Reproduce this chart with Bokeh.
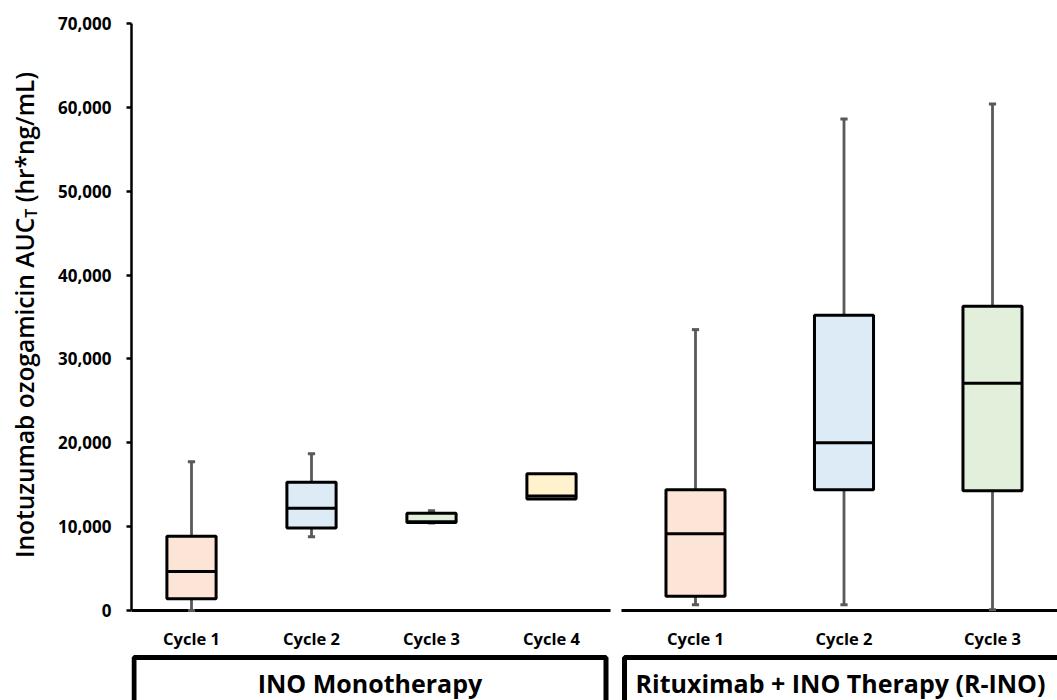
from bokeh.plotting import figure
from bokeh.models import Range1d, FixedTicker, NumeralTickFormatter, ColumnDataSource, Div
from bokeh.layouts import column, row
from bokeh.embed import file_html
from bokeh.resources import INLINE
from bokeh.core.properties import value

# ---------------- data ----------------
mono_cycles = ["Cycle 1", "Cycle 2", "Cycle 3", "Cycle 4"]
mono_min = [0, 8800, 10450, 13300]
mono_q1 = [1400, 9850, 10500, 13300]
mono_med = [4650, 12200, 10600, 13650]
mono_q3 = [8850, 15300, 11600, 16300]
mono_max = [17750, 18700, 11900, 16300]

rino_cycles = ["Cycle 1", "Cycle 2", "Cycle 3"]
rino_min = [700, 700, 100]
rino_q1 = [1700, 14400, 14300]
rino_med = [9150, 20000, 27100]
rino_q3 = [14400, 35200, 36300]
rino_max = [33500, 58600, 60400]

cycle_colors = ["#FCE4D6", "#DDEBF7", "#E2EFDA", "#FFF2CC"]
group_labels = ["INO Monotherapy", "Rituximab + INO Therapy (R-INO)"]
y_ticks = [0, 10000, 20000, 30000, 40000, 50000, 60000, 70000]
y_title_main = "Inotuzumab ozogamicin AUC"
y_title_sub = "T"
y_title_tail = " (hr*ng/mL)"

# ---------------- layout ----------------
FONT = "Open Sans"
W_PAGE = 1057
H_MAIN = 653
H_GROUP = 47
TITLE_W = 50
W = W_PAGE - TITLE_W
PX = 120.0  # pixels per x unit
FRAME_L = 131          # page x of the y axis
FRAME_B = 613          # page y of the frame bottom
TITLE_CENTER_Y = 315


def xdat(page_x):
    return 1 + (page_x - 191) / PX


mono_x = [1 + i for i in range(len(mono_cycles))]
rino_x = [5.2 + 1.2375 * i for i in range(len(rino_cycles))]
mono_w = 0.41
rino_w = 0.41 * 1.2

p = figure(width=W, height=H_MAIN, x_range=Range1d(xdat(FRAME_L), xdat(W_PAGE)),
           y_range=Range1d(-350, 70000),
           title=None, toolbar_location=None, output_backend="svg",
           min_border_left=FRAME_L - TITLE_W, min_border_right=0, min_border_top=23,
           min_border_bottom=H_MAIN - FRAME_B)
p.xgrid.visible = False
p.ygrid.visible = False
p.outline_line_color = None

# y axis
ya = p.yaxis[0]
ya.ticker = FixedTicker(ticks=y_ticks)
ya.formatter = NumeralTickFormatter(format="0,0")
ya.bounds = (0, 70000)
ya.axis_line_width = 2.5
ya.axis_line_color = "black"
ya.major_tick_line_width = 2.5
ya.major_tick_line_color = "black"
ya.major_tick_in = 0
ya.major_tick_out = 5
ya.minor_tick_line_color = None
ya.major_label_standoff = 15
ya.major_label_text_font = FONT
ya.major_label_text_font_style = "bold"
ya.major_label_text_font_size = "17px"
ya.major_label_text_color = "black"

# x axis (labels only)
xa = p.xaxis[0]
all_x = mono_x + rino_x
xa.ticker = FixedTicker(ticks=all_x)
xa.major_label_overrides = {x: lab for x, lab in zip(all_x, mono_cycles + rino_cycles)}
xa.axis_line_color = None
xa.major_tick_line_color = None
xa.minor_tick_line_color = None
xa.major_tick_in = 0
xa.major_tick_out = 0
xa.major_label_standoff = 13
xa.major_label_text_font = FONT
xa.major_label_text_font_style = "bold"
xa.major_label_text_font_size = "16.5px"
xa.major_label_text_color = "black"

# broken x axis line
p.segment(x0=[xdat(FRAME_L), xdat(621)], y0=[0, 0], x1=[xdat(610), xdat(W_PAGE + 10)], y1=[0, 0],
          line_color="black", line_width=3)


def draw_boxes(xs, w, mins, q1s, meds, q3s, maxs, colors):
    cap = 0.03
    p.segment(x0=xs, y0=mins, x1=xs, y1=maxs, line_color="#595959", line_width=2.8)
    cx0, cx1, cy = [], [], []
    for x, mn, a, b, mx in zip(xs, mins, q1s, q3s, maxs):
        if mx > b:
            cx0.append(x - cap); cx1.append(x + cap); cy.append(mx)
        if mn < a:
            cx0.append(x - cap); cx1.append(x + cap); cy.append(mn)
    p.segment(x0=cx0, y0=cy, x1=cx1, y1=cy, line_color="#595959", line_width=3)
    src = ColumnDataSource(dict(x=xs, q1=q1s, q3=q3s, c=colors[:len(xs)]))
    p.vbar(x="x", width=w, bottom="q1", top="q3", fill_color="c", line_color="black",
           line_width=3, source=src)
    p.segment(x0=[x - w / 2 for x in xs], y0=meds, x1=[x + w / 2 for x in xs], y1=meds,
              line_color="black", line_width=3)


draw_boxes(mono_x, mono_w, mono_min, mono_q1, mono_med, mono_q3, mono_max, cycle_colors)
draw_boxes(rino_x, rino_w, rino_min, rino_q1, rino_med, rino_q3, rino_max, cycle_colors)

# ---------------- group label strip ----------------
g = figure(width=W, height=H_GROUP, x_range=p.x_range,
           y_range=Range1d(0, H_GROUP), title=None, toolbar_location=None, output_backend="svg",
           x_axis_type=None, y_axis_type=None,
           min_border_left=FRAME_L - TITLE_W, min_border_right=0, min_border_top=0, min_border_bottom=0)
g.xgrid.visible = False
g.ygrid.visible = False
g.outline_line_color = None

b1_l = xdat(133.5)
b1_r = xdat(605.5)
b2_l = xdat(624)
g.quad(left=[b1_l, b2_l], right=[b1_r, xdat(W_PAGE + 50)], top=[43, 43], bottom=[-20, -20],
       fill_color=None, line_color="black", line_width=5)
g.text(x=[(b1_l + b1_r) / 2, xdat(840)], y=[18, 18], text=group_labels,
       text_align="center", text_baseline="alphabetic",
       text_font=value(FONT), text_font_style="bold", text_font_size="25px", text_color="black")

# ---------------- y axis title (rotated, with subscript) ----------------
title_html = (
    f'<div style="writing-mode: vertical-rl; transform: rotate(180deg); '
    f'height: {2 * TITLE_CENTER_Y}px; width: {TITLE_W}px; line-height: {TITLE_W}px; text-align: center; '
    f'white-space: nowrap; font-family: \'{FONT}\'; font-size: 24.5px; font-weight: 600; color: black;">'
    f'{y_title_main}<sub style="font-size: 16px;">{y_title_sub}</sub>{y_title_tail}</div>'
)
ytitle = Div(text=title_html, width=TITLE_W, height=H_MAIN + H_GROUP, margin=(0, 0, 0, 0))

layout = row(ytitle, column(p, g, spacing=0), spacing=0)
open("out.html", "w").write(file_html(layout, INLINE))
